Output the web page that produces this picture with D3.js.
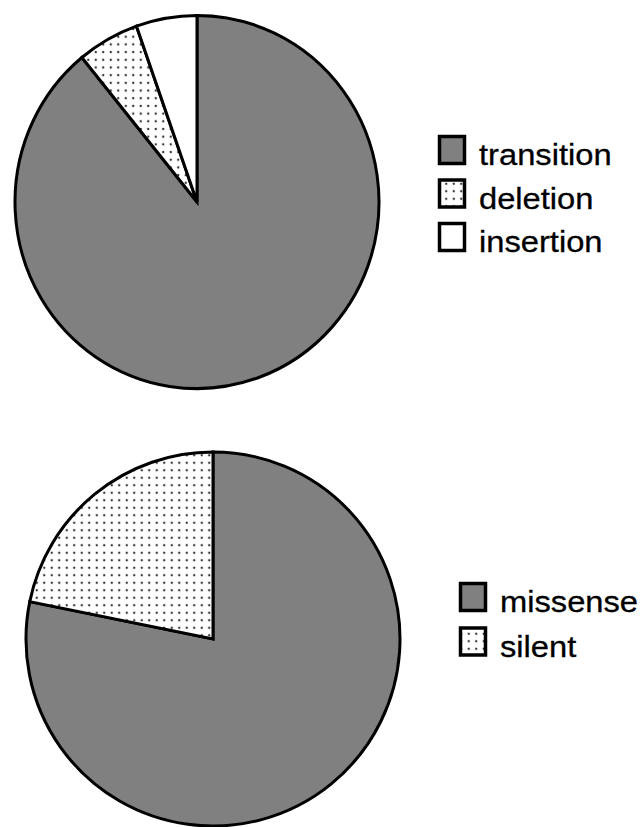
<!DOCTYPE html>
<html>
<head>
<meta charset="utf-8">
<script src="https://cdn.jsdelivr.net/npm/d3@7"></script>
<style>
  html, body { margin: 0; padding: 0; background: #fff; }
  svg { display: block; }
</style>
</head>
<body>
<svg id="chart" width="642" height="827"></svg>
<script>
// ---- data ----
const typeCategories = ["transition", "deletion", "insertion"];
const typeValues = [89.1, 5.5, 5.4];
const effectCategories = ["missense", "silent"];
const effectValues = [78.2, 21.8];

const fills = {
  transition: "#808080", deletion: "url(#dots)", insertion: "#ffffff",
  missense: "#808080", silent: "url(#dots)"
};

const svg = d3.select("#chart");
const defs = svg.append("defs");
const pat = defs.append("pattern").attr("id", "dots")
  .attr("patternUnits", "userSpaceOnUse").attr("width", 7.5).attr("height", 7.5);
pat.append("rect").attr("width", 7.5).attr("height", 7.5).attr("fill", "#fff");
pat.append("circle").attr("cx", 3.75).attr("cy", 3.75).attr("r", 1.2).attr("fill", "#333");

const pie = d3.pie().sort(null).value(d => d.v);

function drawPie(cats, vals, cx, cy, r, sy) {
  const data = cats.map((c, i) => ({ c, v: vals[i] }));
  const arc = d3.arc().innerRadius(0).outerRadius(r);
  const g = svg.append("g").attr("transform", `translate(${cx},${cy}) scale(1,${sy})`);
  g.selectAll("path").data(pie(data)).join("path")
    .attr("d", arc)
    .attr("fill", d => fills[d.data.c])
    .attr("stroke", "#000")
    .attr("stroke-width", 3)
    .attr("stroke-linejoin", "miter");
}

function drawLegend(cats, x, y0, step, textX) {
  const g = svg.append("g");
  cats.forEach((c, i) => {
    const y = y0 + i * step;
    g.append("rect").attr("x", x).attr("y", y).attr("width", 25).attr("height", 27)
      .attr("fill", fills[c]).attr("stroke", "#000").attr("stroke-width", 3.5);
    g.append("text")
      .attr("transform", `translate(${textX},${y + 28.5}) scale(1.09,1)`)
      .attr("font-family", "Liberation Sans, Arial, sans-serif")
      .attr("font-size", 30).attr("fill", "#000")
      .attr("stroke", "#000").attr("stroke-width", 0.3)
      .text(c);
  });
}

drawPie(typeCategories, typeValues, 197, 202, 182, 1.025);
drawLegend(typeCategories, 439.5, 136.5, 43.5, 479);
drawPie(effectCategories, effectValues, 213, 639, 187, 1.0);
drawLegend(effectCategories, 460.5, 583.5, 44.5, 500);
</script>
</body>
</html>
